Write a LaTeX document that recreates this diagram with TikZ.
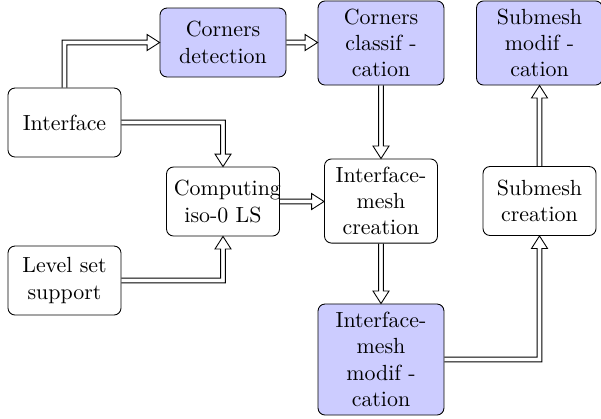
\documentclass[tikz,border=0pt]{standalone}
\usetikzlibrary{calc}
\begin{document}
\begin{tikzpicture}[x=0.4566pt,y=0.4566pt,
  box/.style={draw=black, line width=0.4pt, rounded corners=3.2pt, align=center,
    inner sep=3.33pt, text width=44.9pt, minimum width=51.6pt, minimum height=31.5pt},
  bluebox/.style={box, fill=blue!20, text width=50.8pt, minimum width=57.5pt},
  conn/.style={draw=black, line width=0.4pt, line join=miter}]
\useasboundingbox (0,0) rectangle (601,-418);
\node[box] (iface) at (64.5,-122.5) {Interface};
\node[box] (lss) at (64.5,-280.5) {Level set\\support};
\node[box] (comp) at (223,-201.5) {Computing\\iso-0 LS};
\node[bluebox] (cd) at (223,-42.5) {Corners\\detection};
\node[bluebox, minimum height=38.4pt] (cc) at (381,-43) {Corners\\classif -\\cation};
\node[box, minimum height=38.4pt] (imc) at (381,-201) {Interface-\\mesh\\creation};
\node[bluebox, minimum height=50.7pt] (imm) at (381,-359.5) {Interface-\\mesh\\modif -\\cation};
\node[box] (sc) at (539.5,-201) {Submesh\\creation};
\node[bluebox, minimum height=38.4pt] (sm) at (539.5,-43) {Submesh\\modif -\\cation};
% corner and tip coordinates
\coordinate (c1) at (iface.north |- cd.west);
\coordinate (c2) at (comp.north |- iface.east);
\coordinate (c3) at (comp.south |- lss.east);
\coordinate (t4) at (cd.east -| cc.west);
\coordinate (t6) at (comp.east -| imc.west);
\coordinate (c8) at (sc.south |- imm.east);
\coordinate (t9) at (sc.north |- sm.south);
% 1: Interface -> Corners detection (up, then right)
\draw[conn] ($(iface.north)+(-2.4,0)$) -- ($(c1)+(-2.4,2.4)$) -- ($(cd.west)+(-12.5,2.4)$)
  -- ($(cd.west)+(-12.5,8)$) -- (cd.west) -- ($(cd.west)+(-12.5,-8)$) -- ($(cd.west)+(-12.5,-2.4)$)
  -- ($(c1)+(2.4,-2.4)$) -- ($(iface.north)+(2.4,0)$);
% 2: Interface -> Computing (right, then down)
\draw[conn] ($(iface.east)+(0,2.4)$) -- ($(c2)+(2.4,2.4)$) -- ($(comp.north)+(2.4,12.5)$)
  -- ($(comp.north)+(8,12.5)$) -- (comp.north) -- ($(comp.north)+(-8,12.5)$) -- ($(comp.north)+(-2.4,12.5)$)
  -- ($(c2)+(-2.4,-2.4)$) -- ($(iface.east)+(0,-2.4)$);
% 3: Level set support -> Computing (right, then up)
\draw[conn] ($(lss.east)+(0,-2.4)$) -- ($(c3)+(2.4,-2.4)$) -- ($(comp.south)+(2.4,-12.5)$)
  -- ($(comp.south)+(8,-12.5)$) -- (comp.south) -- ($(comp.south)+(-8,-12.5)$) -- ($(comp.south)+(-2.4,-12.5)$)
  -- ($(c3)+(-2.4,2.4)$) -- ($(lss.east)+(0,2.4)$);
% 4: Corners detection -> Corners classification
\draw[conn] ($(cd.east)+(0,2.4)$) -- ($(t4)+(-12.5,2.4)$) -- ($(t4)+(-12.5,8)$) -- (t4)
  -- ($(t4)+(-12.5,-8)$) -- ($(t4)+(-12.5,-2.4)$) -- ($(cd.east)+(0,-2.4)$);
% 5: Corners classification -> Interface-mesh creation
\draw[conn] ($(cc.south)+(2.4,0)$) -- ($(imc.north)+(2.4,12.5)$) -- ($(imc.north)+(8,12.5)$) -- (imc.north)
  -- ($(imc.north)+(-8,12.5)$) -- ($(imc.north)+(-2.4,12.5)$) -- ($(cc.south)+(-2.4,0)$);
% 6: Computing -> Interface-mesh creation
\draw[conn] ($(comp.east)+(0,2.4)$) -- ($(t6)+(-12.5,2.4)$) -- ($(t6)+(-12.5,8)$) -- (t6)
  -- ($(t6)+(-12.5,-8)$) -- ($(t6)+(-12.5,-2.4)$) -- ($(comp.east)+(0,-2.4)$);
% 7: Interface-mesh creation -> Interface-mesh modification
\draw[conn] ($(imc.south)+(2.4,0)$) -- ($(imm.north)+(2.4,12.5)$) -- ($(imm.north)+(8,12.5)$) -- (imm.north)
  -- ($(imm.north)+(-8,12.5)$) -- ($(imm.north)+(-2.4,12.5)$) -- ($(imc.south)+(-2.4,0)$);
% 8: Interface-mesh modification -> Submesh creation (right, then up)
\draw[conn] ($(imm.east)+(0,-2.4)$) -- ($(c8)+(2.4,-2.4)$) -- ($(sc.south)+(2.4,-12.5)$)
  -- ($(sc.south)+(8,-12.5)$) -- (sc.south) -- ($(sc.south)+(-8,-12.5)$) -- ($(sc.south)+(-2.4,-12.5)$)
  -- ($(c8)+(-2.4,2.4)$) -- ($(imm.east)+(0,2.4)$);
% 9: Submesh creation -> Submesh modification
\draw[conn] ($(sc.north)+(-2.4,0)$) -- ($(t9)+(-2.4,-12.5)$) -- ($(t9)+(-8,-12.5)$) -- (t9)
  -- ($(t9)+(8,-12.5)$) -- ($(t9)+(2.4,-12.5)$) -- ($(sc.north)+(2.4,0)$);
\end{tikzpicture}
\end{document}
